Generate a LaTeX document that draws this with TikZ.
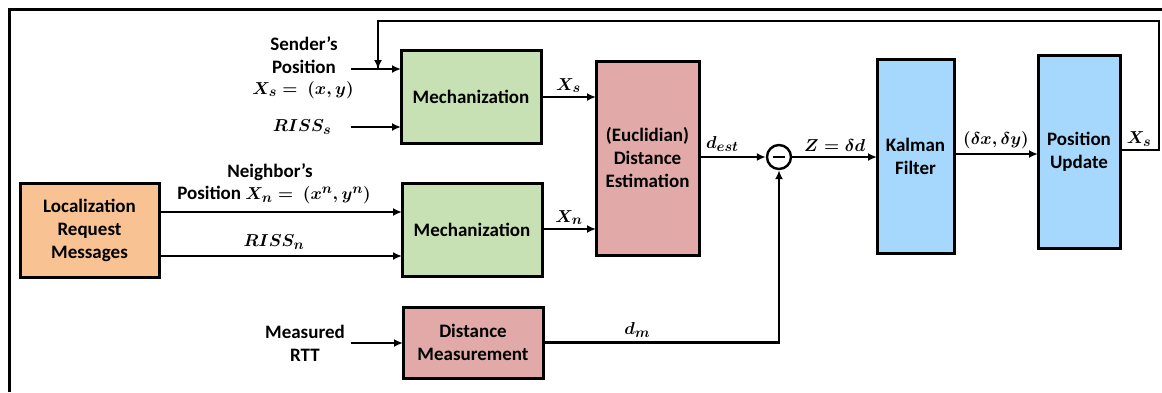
\documentclass[tikz,border=0pt]{standalone}
\usepackage{fontspec}
\setmainfont{Carlito}
\usetikzlibrary{arrows.meta,calc}
\definecolor{boxorange}{RGB}{248,194,146}
\definecolor{boxgreen}{RGB}{199,224,180}
\definecolor{boxpink}{RGB}{225,170,168}
\definecolor{boxblue}{RGB}{166,215,252}
\begin{document}
\begin{tikzpicture}[x=1pt,y=-1pt,
  font=\fontsize{19}{23}\selectfont\bfseries\boldmath,
  blk/.style={draw,line width=3pt,align=center,inner sep=2pt,outer sep=0pt},
  conn/.style={line width=2.4pt,-{Latex[length=9pt,width=8pt]}},
  wire/.style={line width=2.4pt},
  lbl/.style={inner sep=1pt,align=center}]
\useasboundingbox (0,0) rectangle (1162,392);
% outer frame (top and left edges)
\draw[line width=3pt] (9,392) -- (9,9) -- (1162,9);

% blocks
\node[blk,fill=boxorange,minimum width=139pt,minimum height=94pt] (lrm) at (89.5,230) {Localization\\Request\\Messages};
\node[blk,fill=boxgreen,minimum width=140pt,minimum height=93pt] (mechs) at (471,97) {Mechanization};
\node[blk,fill=boxgreen,minimum width=140pt,minimum height=93pt] (mechn) at (472,229.5) {Mechanization};
\node[blk,fill=boxpink,minimum width=140pt,minimum height=71pt] (dm) at (473,342.5) {Distance\\Measurement};
\node[blk,fill=boxpink,minimum width=103pt,minimum height=194pt] (eu) at (647.5,158) {(Euclidian)\\Distance\\Estimation};
\node[draw,circle,line width=2.4pt,minimum size=24pt,inner sep=0pt] (sum) at (779,157) {};
\draw[line width=1.6pt] ($(sum.center)+(-6,0)$) -- ($(sum.center)+(6,0)$);
\node[blk,fill=boxblue,minimum width=77pt,minimum height=194pt] (kf) at (915.5,156) {Kalman\\Filter};
\node[blk,fill=boxblue,minimum width=82pt,minimum height=193pt] (pu) at (1079,151.5) {Position\\Update};

% free ends of the input arrows
\coordinate (sin) at (351,69);
\coordinate (rin) at (351,127);
\coordinate (tin) at (351,343);
\coordinate (fbtop) at (378,21);
\coordinate (fbright) at (1159,21);
\coordinate (fbdrop) at (378,69);

% input labels
\node[lbl] (sendlbl) at (304,55) {Sender's\\Position};
\node[lbl] (xslbl) at (303,90) {$X_s =\ (x,y)$};
\node[lbl] (risss) at (302,127) {$RISS_s$};
\node[lbl] (neighlbl) at (270,172) {Neighbor's};
\node[lbl] (poslbl) at (274,195) {Position $X_n =\ (x^n,y^n)$};
\node[lbl] (rissn) at (274,242) {$RISS_n$};
\node[lbl] (rttlbl) at (305,343) {Measured\\RTT};

% connectors into the mechanization blocks
\draw[conn] (sin) -- (sin -| mechs.west);
\draw[conn] (rin) -- (rin -| mechs.west);
\draw[conn] (lrm.east |- 0,212) -- (mechn.west |- 0,212);
\draw[conn] (lrm.east |- 0,256) -- (mechn.west |- 0,256);
\draw[conn] (tin) -- (dm.west |- tin);

% mechanization outputs into the distance estimation
\draw[conn] (mechs.east |- 0,97) -- (eu.west |- 0,97) node[midway,above=2pt,lbl] (xsout) {$X_s$};
\draw[conn] (mechn.east |- 0,229) -- (eu.west |- 0,229) node[midway,above=2pt,lbl] (xnout) {$X_n$};

% estimated and measured distance into the difference
\draw[conn] (eu.east |- sum) -- (sum.west) node[pos=0.35,above=3pt,lbl] (dest) {$d_{est}$};
\draw[conn] (dm.east) -| (sum.south) node[pos=0.2,above=3pt,lbl] (dml) {$d_m$};

% filter chain
\draw[conn] (sum.east) -- (sum.east -| kf.west) node[midway,above=3pt,lbl] (zl) {$Z = \delta d$};
\draw[conn] (kf.east |- 0,154) -- (pu.west |- 0,154) node[midway,above=3pt,lbl] (dxy) {$(\delta x,\delta y)$};

% feedback of the updated position
\draw[wire] (pu.east |- 0,150) -| (fbright) -- (fbtop) -- ($(fbdrop)+(0,-1)$);
\draw[conn] (fbtop) -- (fbdrop);
\node[lbl] (xsfb) at (1139,139) {$X_s$};
\end{tikzpicture}
\end{document}
